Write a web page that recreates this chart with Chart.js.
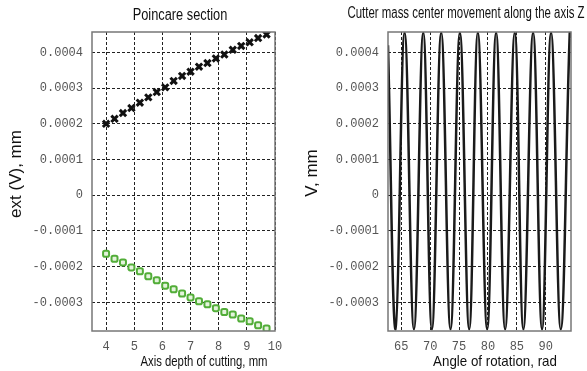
<!DOCTYPE html>
<html>
<head>
<meta charset="utf-8">
<script src="https://cdn.jsdelivr.net/npm/chart.js@4.4.1/dist/chart.umd.min.js"></script>
<style>
    html, body { margin: 0; padding: 0; background: #fff; overflow: hidden; }
    .box { position: absolute; top: 0; }
</style>
</head>
<body>
<div class="box" style="left:0"><canvas id="poincare" width="293" height="371"></canvas></div>
<div class="box" style="left:293px"><canvas id="movement" width="294" height="371"></canvas></div>
<script>
    'use strict';

    // Poincare section: depth of cutting, mm
    var depth = [4, 4.3, 4.6, 4.9, 5.2, 5.5, 5.8, 6.1, 6.4, 6.7, 7, 7.3, 7.6, 7.9, 8.2, 8.5, 8.8, 9.1, 9.4, 9.7];
    var extMax = [0.000200, 0.000214, 0.000230, 0.000244, 0.000259, 0.000274, 0.000289, 0.000302, 0.000320, 0.000334,
        0.000346, 0.000360, 0.000370, 0.000383, 0.000394, 0.000407, 0.000418, 0.000428, 0.000440, 0.000450];
    var extMin = [-0.000164, -0.000178, -0.000188, -0.000202, -0.000213, -0.000227, -0.000238, -0.000253, -0.000263, -0.000275,
        -0.000286, -0.000297, -0.000305, -0.000316, -0.000327, -0.000334, -0.000345, -0.000353, -0.000364, -0.000373];

    // movement along Z: angle of rotation, rad (extremes of the curve)
    var angle = [62.7, 64.02, 65.57, 67.19, 68.80, 70.30, 71.91, 73.52, 75.14, 76.75, 78.25, 79.86, 81.41,
        82.97, 84.64, 86.13, 87.81, 89.36, 90.92, 92.59, 94.15, 94.37];
    var zMove = [0.00042, -0.000375, 0.000455, -0.000375, 0.000455, -0.000375, 0.000455, -0.000375, 0.000455, -0.000375,
        0.000455, -0.000375, 0.000455, -0.000375, 0.000455, -0.000375, 0.000455, -0.000375, 0.000455, -0.000375, 0.000455, 0.00044];

    var yTicks = [-0.0003, -0.0002, -0.0001, 0, 0.0001, 0.0002, 0.0003, 0.0004];
    var depthTicks = [4, 5, 6, 7, 8, 9, 10];
    var angleTicks = [65, 70, 75, 80, 85, 90];

    var tickFont = { family: '"Liberation Mono", "DejaVu Sans Mono", monospace', size: 12 };
    var sansFont = '"Liberation Sans", Arial, sans-serif';

    // no narrow font installed, so squeeze the text a bit
    function drawText(ctx, t, x, y) {
        ctx.save();
        ctx.translate(x, y);
        if (t.rotate) {
            ctx.rotate(-Math.PI / 2);
        }
        ctx.scale(t.squeeze || 1, 1);
        ctx.font = t.size + 'px ' + sansFont;
        ctx.fillText(t.text, 0, 0);
        ctx.restore();
    }

    // titles round the plot and the frame of the plot
    var captions = {
        id: 'captions',
        afterDraw: function (chart, args, opts) {
            var ctx = chart.ctx;
            var area = chart.chartArea;
            ctx.save();
            ctx.strokeStyle = '#777';
            ctx.lineWidth = 1.5;
            ctx.strokeRect(area.left, area.top, area.right - area.left, area.bottom - area.top);
            ctx.fillStyle = '#111';
            ctx.textAlign = 'center';
            ctx.textBaseline = 'middle';
            opts.texts.forEach(function (t) {
                drawText(ctx, t, t.x, t.y);
            });
            ctx.restore();
        }
    };

    function yScale(width) {
        return {
            min: -0.00038,
            max: 0.000457,
            afterBuildTicks: function (scale) {
                scale.ticks = yTicks.map(function (v) { return { value: v }; });
            },
            afterFit: function (scale) {
                scale.width = width;
            },
            grid: { color: '#222', lineWidth: 1, drawTicks: false },
            border: { display: false, dash: [3, 2] },
            ticks: {
                font: tickFont,
                color: '#555',
                padding: 9,
                callback: function (v) {
                    return Math.abs(v) < 1e-12 ? '0' : v.toFixed(4);
                }
            }
        };
    }

    function xScale(min, max, tickList) {
        return {
            type: 'linear',
            min: min,
            max: max,
            afterBuildTicks: function (scale) {
                scale.ticks = tickList.map(function (v) { return { value: v }; });
            },
            afterFit: function (scale) {
                scale.height = 40;
            },
            grid: { color: '#222', lineWidth: 1, drawTicks: false },
            border: { display: false, dash: [3, 2] },
            ticks: { font: tickFont, color: '#555', padding: 9, maxRotation: 0 }
        };
    }

    function toPoints(xs, ys) {
        return xs.map(function (x, i) { return { x: x, y: ys[i] }; });
    }

    new Chart(document.getElementById('poincare'), {
        type: 'scatter',
        data: {
            datasets: [{
                data: toPoints(depth, extMax),
                pointStyle: 'crossRot',
                radius: 4.5,
                borderWidth: 3,
                borderColor: '#111',
                backgroundColor: '#111'
            }, {
                data: toPoints(depth, extMin),
                pointStyle: 'rectRounded',
                radius: 3.5,
                borderWidth: 2,
                borderColor: '#52ad38',
                backgroundColor: '#e4f3dc'
            }]
        },
        options: {
            responsive: false,
            animation: false,
            devicePixelRatio: 1,
            layout: { padding: { top: 32, right: 18, left: 0, bottom: 0 } },
            plugins: {
                legend: { display: false },
                tooltip: { enabled: false },
                captions: {
                    texts: [
                        { text: 'Poincare section', x: 180, y: 16, size: 16, squeeze: 0.8 },
                        { text: 'Axis depth of cutting, mm', x: 204, y: 362, size: 14.5, squeeze: 0.78 },
                        { text: 'ext (V), mm', x: 16, y: 174, size: 17, rotate: true }
                    ]
                }
            },
            scales: {
                x: xScale(3.5, 10, depthTicks),
                y: yScale(92)
            }
        },
        plugins: [captions]
    });

    new Chart(document.getElementById('movement'), {
        type: 'line',
        data: {
            datasets: [{
                data: toPoints(angle, zMove),
                borderColor: '#1a1a1a',
                borderWidth: 2.5,
                pointRadius: 0,
                tension: 0.4,
                fill: false
            }]
        },
        options: {
            responsive: false,
            animation: false,
            devicePixelRatio: 1,
            layout: { padding: { top: 32, right: 16, left: 0, bottom: 0 } },
            plugins: {
                legend: { display: false },
                tooltip: { enabled: false },
                captions: {
                    texts: [
                        { text: 'Cutter mass center movement along the axis Z', x: 173, y: 14, size: 16, squeeze: 0.715 },
                        { text: 'Angle of rotation, rad', x: 202, y: 362, size: 14.5, squeeze: 0.92 },
                        { text: 'V, mm', x: 19, y: 173, size: 17, rotate: true }
                    ]
                }
            },
            scales: {
                x: xScale(62.7, 94.37, angleTicks),
                y: yScale(95)
            }
        },
        plugins: [captions]
    });
</script>
</body>
</html>
